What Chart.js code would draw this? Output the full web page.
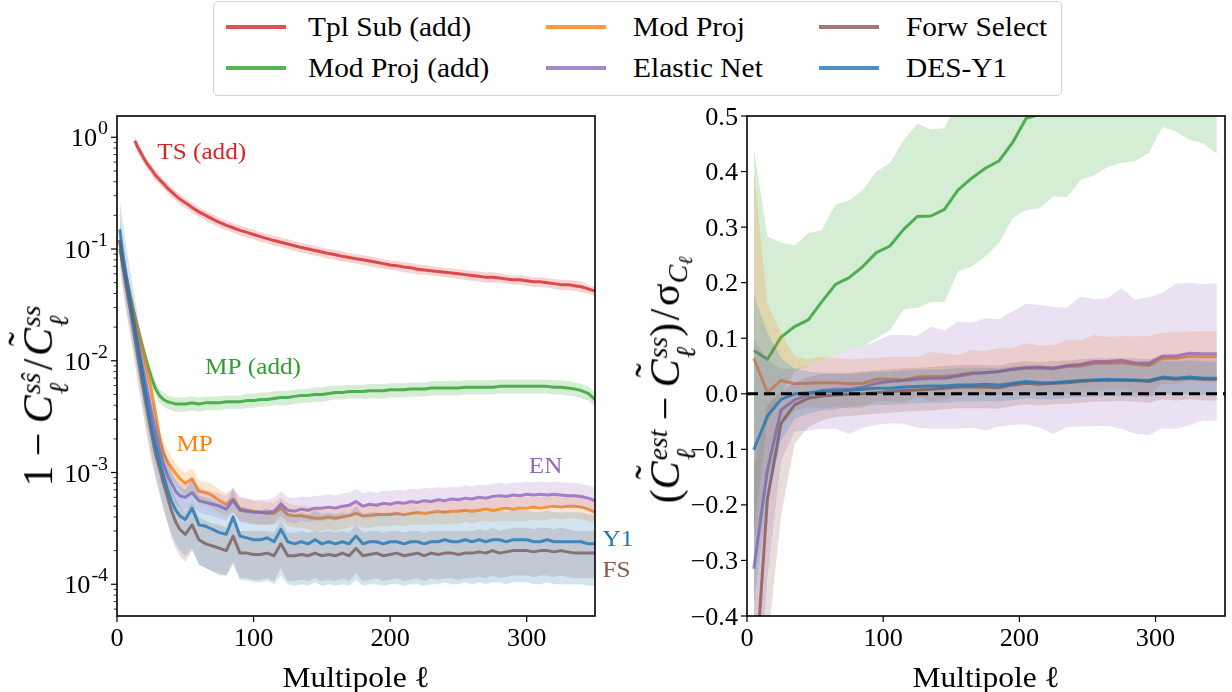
<!DOCTYPE html>
<html>
<head>
<meta charset="utf-8">
<script src="https://cdn.jsdelivr.net/npm/chart.js@4.4.1/dist/chart.umd.min.js"></script>
<style>
  body { margin: 0; background: #fff; }
  #wrap { position: relative; width: 1232px; height: 692px; overflow: hidden; font-family: 'Liberation Serif', 'DejaVu Serif', serif; }
  canvas { position: absolute; }
  #legend { position: absolute; left: 213px; top: 1px; width: 849px; height: 95px; border: 1px solid #d2d2d2; border-radius: 5px; box-sizing: border-box; background: #fff; z-index: 2; }
  .sw { position: absolute; width: 60px; height: 4px; }
  .lab { position: absolute; white-space: nowrap; font-size: 28px; line-height: 1; transform-origin: 0 50%; transform: translateY(-50%) scaleX(1.05); }
  .ytitle { position: absolute; width: 0; height: 0; z-index: 2; }
  .ytitle > span { position: absolute; white-space: nowrap; font-size: 42px; line-height: 1; transform: translate(-50%, -50%) rotate(-90deg); }
  .st { display: inline-flex; flex-direction: column; font-size: 0.66em; line-height: 1; vertical-align: 0.42em; margin-left: 1px; font-style: italic; }
  .tc { position: relative; font-style: italic; }
  .tc b { position: absolute; left: 0.24em; top: -0.3em; font-weight: normal; font-style: normal; }
  .op { margin: 0 0.22em; }
  .sl { margin: 0 0.06em; }
  .sub { font-size: 0.66em; vertical-align: -0.3em; font-style: italic; }
  .sub2 { font-size: 0.72em; vertical-align: -0.25em; }
</style>
</head>
<body>
<div id="wrap">
  <div id="legend"></div>
  <canvas id="left" width="650" height="592" style="left:0;top:100px"></canvas>
  <canvas id="right" width="582" height="592" style="left:650px;top:100px"></canvas>
  <div class="ytitle" style="left:45px;top:396px"><span>1<span class="op">−</span><i>C</i><span class="st"><span>sŝ</span><span>ℓ</span></span><span class="sl">/</span><span class="tc">C<b>˜</b></span><span class="st"><span>ss</span><span>ℓ</span></span></span></div>
  <div class="ytitle" style="left:672px;top:380px"><span>(<span class="tc">C<b>˜</b></span><span class="st"><span>est</span><span>ℓ</span></span><span class="op">−</span><span class="tc">C<b>˜</b></span><span class="st"><span>ss</span><span>ℓ</span></span>)<span class="sl">/</span>σ<span class="sub">C<span class="sub2">ℓ</span></span></span></div>
</div>
<script>
// colours (matplotlib tab palette)
const RED = '214,39,40', GREEN = '44,160,44', ORANGE = '255,127,14';
const PURPLE = '148,103,189', BROWN = '140,86,75', BLUE = '31,119,180';

// ---------- left panel: 1 - C^ss^/C~ss (log scale) ----------
const L_ELL = [
  2, 4, 6, 8, 10, 13, 16, 19, 22, 25,
  28, 31, 34, 37, 40, 43, 46, 50, 55, 60,
  65, 70, 75, 80, 85, 90, 95, 100, 105, 110,
  115, 120, 125, 130, 135, 140, 145, 150, 155, 160,
  165, 170, 175, 180, 185, 190, 195, 200, 205, 210,
  215, 220, 225, 230, 235, 240, 245, 250, 255, 260,
  265, 270, 275, 280, 285, 290, 295, 300, 305, 310,
  315, 320, 325, 330, 335, 340, 345, 350];

const TS_ADD = [
  null, null, null, null, null, 0.93, 0.78, 0.67, 0.58, 0.52,
  0.46, 0.42, 0.385, 0.35, 0.325, 0.30, 0.28, 0.26, 0.235, 0.215,
  0.20, 0.185, 0.173, 0.163, 0.155, 0.147, 0.141, 0.135, 0.129, 0.124,
  0.119, 0.115, 0.111, 0.107, 0.103, 0.100, 0.097, 0.094, 0.091, 0.089,
  0.086, 0.084, 0.082, 0.080, 0.078, 0.076, 0.074, 0.072, 0.071, 0.069,
  0.068, 0.066, 0.065, 0.064, 0.063, 0.062, 0.061, 0.060, 0.059, 0.058,
  0.057, 0.056, 0.056, 0.055, 0.054, 0.053, 0.053, 0.052, 0.051, 0.051,
  0.050, 0.049, 0.048, 0.048, 0.047, 0.046, 0.044, 0.042];
const TS_ADD_LO = [
  null, null, null, null, null, 0.84, 0.70, 0.60, 0.52, 0.47,
  0.41, 0.38, 0.35, 0.315, 0.29, 0.27, 0.25, 0.234, 0.21, 0.194,
  0.18, 0.167, 0.156, 0.147, 0.14, 0.132, 0.127, 0.122, 0.116, 0.112,
  0.107, 0.104, 0.100, 0.096, 0.093, 0.090, 0.087, 0.085, 0.082, 0.080,
  0.077, 0.076, 0.074, 0.072, 0.070, 0.068, 0.067, 0.065, 0.064, 0.062,
  0.061, 0.059, 0.059, 0.058, 0.057, 0.056, 0.055, 0.054, 0.053, 0.052,
  0.051, 0.050, 0.050, 0.050, 0.049, 0.048, 0.048, 0.047, 0.046, 0.046,
  0.045, 0.044, 0.043, 0.043, 0.042, 0.041, 0.040, 0.038];
const TS_ADD_HI = [
  null, null, null, null, null, 1.02, 0.86, 0.74, 0.64, 0.57,
  0.51, 0.46, 0.42, 0.385, 0.36, 0.33, 0.31, 0.286, 0.26, 0.237,
  0.22, 0.204, 0.19, 0.179, 0.17, 0.162, 0.155, 0.149, 0.142, 0.136,
  0.131, 0.127, 0.122, 0.118, 0.113, 0.110, 0.107, 0.103, 0.100, 0.098,
  0.095, 0.092, 0.090, 0.088, 0.086, 0.084, 0.081, 0.079, 0.078, 0.076,
  0.075, 0.073, 0.072, 0.070, 0.069, 0.068, 0.067, 0.066, 0.065, 0.064,
  0.063, 0.062, 0.062, 0.061, 0.059, 0.058, 0.058, 0.057, 0.056, 0.056,
  0.055, 0.054, 0.053, 0.053, 0.052, 0.051, 0.048, 0.046];

const MP_ADD = [
  0.10, 0.075, 0.058, 0.045, 0.036, 0.025, 0.018, 0.013, 0.0095, 0.0072,
  0.0057, 0.0049, 0.0045, 0.0043, 0.0042, 0.0041, 0.0041, 0.0041, 0.0042, 0.0041,
  0.0042, 0.0042, 0.0042, 0.0043, 0.0043, 0.0043, 0.0044, 0.0044, 0.0045, 0.0045,
  0.0046, 0.0047, 0.0047, 0.0048, 0.0049, 0.0049, 0.0050, 0.0050, 0.0051, 0.0052,
  0.0052, 0.0053, 0.0053, 0.0053, 0.0054, 0.0054, 0.0054, 0.0055, 0.0055, 0.0055,
  0.0056, 0.0056, 0.0056, 0.0057, 0.0057, 0.0057, 0.0057, 0.0057, 0.0058, 0.0058,
  0.0058, 0.0058, 0.0058, 0.0059, 0.0059, 0.0059, 0.0059, 0.0059, 0.0059, 0.0059,
  0.0059, 0.0058, 0.0058, 0.0057, 0.0056, 0.0054, 0.0051, 0.0045];
const MP_ADD_LO = [
  0.086, 0.064, 0.050, 0.039, 0.031, 0.0215, 0.0155, 0.0112, 0.0082, 0.0062,
  0.0049, 0.0042, 0.0039, 0.0037, 0.0036, 0.0035, 0.0035, 0.0035, 0.0036, 0.0035,
  0.0036, 0.0036, 0.0036, 0.0037, 0.0037, 0.0037, 0.0038, 0.0038, 0.0039, 0.0039,
  0.0040, 0.0040, 0.0040, 0.0041, 0.0042, 0.0042, 0.0043, 0.0043, 0.0044, 0.0045,
  0.0045, 0.0046, 0.0046, 0.0046, 0.0046, 0.0046, 0.0046, 0.0047, 0.0047, 0.0047,
  0.0048, 0.0048, 0.0048, 0.0049, 0.0049, 0.0049, 0.0049, 0.0049, 0.0050, 0.0050,
  0.0050, 0.0050, 0.0050, 0.0051, 0.0051, 0.0051, 0.0051, 0.0051, 0.0051, 0.0051,
  0.0051, 0.0050, 0.0050, 0.0049, 0.0048, 0.0046, 0.0044, 0.0039];
const MP_ADD_HI = [
  0.115, 0.086, 0.067, 0.052, 0.041, 0.029, 0.021, 0.015, 0.011, 0.0083,
  0.0066, 0.0056, 0.0052, 0.0049, 0.0048, 0.0047, 0.0047, 0.0047, 0.0048, 0.0047,
  0.0048, 0.0048, 0.0048, 0.0049, 0.0049, 0.0049, 0.0051, 0.0051, 0.0052, 0.0052,
  0.0053, 0.0054, 0.0054, 0.0055, 0.0056, 0.0056, 0.0058, 0.0058, 0.0059, 0.0060,
  0.0060, 0.0061, 0.0061, 0.0061, 0.0062, 0.0062, 0.0062, 0.0063, 0.0063, 0.0063,
  0.0064, 0.0064, 0.0064, 0.0066, 0.0066, 0.0066, 0.0066, 0.0066, 0.0067, 0.0067,
  0.0067, 0.0067, 0.0067, 0.0068, 0.0068, 0.0068, 0.0068, 0.0068, 0.0068, 0.0068,
  0.0068, 0.0067, 0.0067, 0.0066, 0.0064, 0.0062, 0.0059, 0.0052];

const MP = [
  0.12, 0.085, 0.063, 0.048, 0.037, 0.025, 0.017, 0.012, 0.0082, 0.0056,
  0.0035, 0.0021, 0.0015, 0.00125, 0.0011, 0.00098, 0.00088, 0.0008, 0.00088, 0.00068,
  0.00066, 0.00062, 0.00056, 0.00052, 0.00058, 0.00047, 0.00046, 0.00045, 0.00044, 0.00043,
  0.00043, 0.00048, 0.00042, 0.00041, 0.00041, 0.00040, 0.00039, 0.00039, 0.00040, 0.00039,
  0.00040, 0.00041, 0.00043, 0.00041, 0.00041, 0.00042, 0.00042, 0.00042, 0.00043, 0.00042,
  0.00043, 0.00044, 0.00043, 0.00044, 0.00045, 0.00044, 0.00045, 0.00045, 0.00046, 0.00045,
  0.00046, 0.00047, 0.00046, 0.00047, 0.00048, 0.00047, 0.00048, 0.00048, 0.00049, 0.00048,
  0.00049, 0.00050, 0.00049, 0.00050, 0.00050, 0.00049, 0.00047, 0.00044];
const MP_LO = [
  0.10, 0.072, 0.053, 0.040, 0.031, 0.021, 0.014, 0.0099, 0.0067, 0.0045,
  0.0028, 0.0017, 0.0012, 0.001, 0.00088, 0.00078, 0.0007, 0.00063, 0.00068, 0.00053,
  0.00051, 0.00048, 0.00044, 0.00041, 0.00045, 0.00037, 0.00036, 0.00035, 0.00034, 0.00034,
  0.00034, 0.00037, 0.00033, 0.00032, 0.00032, 0.00031, 0.0003, 0.0003, 0.00031, 0.0003,
  0.00031, 0.00032, 0.00034, 0.00032, 0.00032, 0.00033, 0.00033, 0.00033, 0.00034, 0.00033,
  0.00034, 0.00034, 0.00034, 0.00034, 0.00035, 0.00034, 0.00035, 0.00035, 0.00036, 0.00035,
  0.00036, 0.00037, 0.00036, 0.00037, 0.00037, 0.00037, 0.00037, 0.00037, 0.00038, 0.00037,
  0.00038, 0.00039, 0.00038, 0.00039, 0.00039, 0.00038, 0.00037, 0.00034];
const MP_HI = [
  0.14, 0.10, 0.075, 0.057, 0.044, 0.030, 0.020, 0.014, 0.0099, 0.0068,
  0.0043, 0.0026, 0.0019, 0.0016, 0.0014, 0.0012, 0.0011, 0.001, 0.0011, 0.00085,
  0.00083, 0.00078, 0.0007, 0.00065, 0.00073, 0.00059, 0.00058, 0.00056, 0.00055, 0.00054,
  0.00054, 0.0006, 0.00053, 0.00051, 0.00051, 0.0005, 0.00049, 0.00049, 0.0005, 0.00049,
  0.0005, 0.00051, 0.00054, 0.00051, 0.00051, 0.00053, 0.00053, 0.00053, 0.00054, 0.00053,
  0.00054, 0.00055, 0.00054, 0.00055, 0.00056, 0.00055, 0.00056, 0.00056, 0.00058, 0.00056,
  0.00058, 0.00059, 0.00058, 0.00059, 0.0006, 0.00059, 0.0006, 0.0006, 0.00061, 0.0006,
  0.00061, 0.00063, 0.00061, 0.00063, 0.00063, 0.00061, 0.00059, 0.00055];

const EN = [
  0.12, 0.08, 0.058, 0.042, 0.031, 0.020, 0.013, 0.0085, 0.0055, 0.0036,
  0.0024, 0.0016, 0.0012, 0.00095, 0.0008, 0.00068, 0.00062, 0.0006, 0.00066, 0.00056,
  0.00054, 0.00052, 0.00050, 0.00047, 0.00056, 0.00046, 0.00045, 0.00044, 0.00044, 0.00044,
  0.00045, 0.00052, 0.00046, 0.00045, 0.00047, 0.00046, 0.00048, 0.00048, 0.00049, 0.00048,
  0.00050, 0.00051, 0.00055, 0.00050, 0.00052, 0.00051, 0.00053, 0.00052, 0.00054, 0.00053,
  0.00055, 0.00054, 0.00056, 0.00055, 0.00057, 0.00056, 0.00058, 0.00057, 0.00059, 0.00058,
  0.00060, 0.00059, 0.00061, 0.00062, 0.00061, 0.00063, 0.00062, 0.00064, 0.00063, 0.00064,
  0.00063, 0.00064, 0.00063, 0.00062, 0.00062, 0.00061, 0.00059, 0.00056];
const EN_LO = [
  0.10, 0.066, 0.048, 0.034, 0.025, 0.016, 0.0102, 0.0066, 0.0043, 0.0028,
  0.0019, 0.00125, 0.00094, 0.00074, 0.00062, 0.00053, 0.00048, 0.00047, 0.00051, 0.00044,
  0.00042, 0.00041, 0.00039, 0.00037, 0.00044, 0.00036, 0.00035, 0.00034, 0.00034, 0.00034,
  0.00035, 0.00041, 0.00036, 0.00035, 0.00037, 0.00036, 0.00037, 0.00037, 0.00038, 0.00037,
  0.00039, 0.0004, 0.00043, 0.00039, 0.00041, 0.0004, 0.00041, 0.00041, 0.00042, 0.00041,
  0.00043, 0.00042, 0.00044, 0.00043, 0.00044, 0.00044, 0.00045, 0.00044, 0.00046, 0.00045,
  0.00047, 0.00046, 0.00048, 0.00048, 0.00048, 0.00049, 0.00048, 0.0005, 0.00049, 0.0005,
  0.00049, 0.0005, 0.00049, 0.00048, 0.00048, 0.00048, 0.00046, 0.00044];
const EN_HI = [
  0.15, 0.10, 0.075, 0.055, 0.040, 0.026, 0.017, 0.011, 0.0072, 0.0047,
  0.0031, 0.0021, 0.0016, 0.00124, 0.00104, 0.00088, 0.00081, 0.00078, 0.00086, 0.00073,
  0.0007, 0.00068, 0.00065, 0.00061, 0.00073, 0.0006, 0.00059, 0.00057, 0.00057, 0.00057,
  0.00059, 0.00068, 0.0006, 0.00059, 0.00061, 0.0006, 0.00062, 0.00062, 0.00064, 0.00062,
  0.00065, 0.00066, 0.00072, 0.00065, 0.00068, 0.00066, 0.00069, 0.00068, 0.0007, 0.00069,
  0.00072, 0.0007, 0.00073, 0.00072, 0.00074, 0.00073, 0.00075, 0.00074, 0.00077, 0.00075,
  0.00078, 0.00077, 0.00079, 0.00081, 0.00079, 0.00082, 0.00081, 0.00083, 0.00082, 0.00083,
  0.00082, 0.00083, 0.00082, 0.00081, 0.00081, 0.00079, 0.00077, 0.00073];

const FS = [
  0.12, 0.075, 0.052, 0.037, 0.027, 0.016, 0.0095, 0.0058, 0.0036, 0.0023,
  0.0015, 0.0011, 0.0008, 0.0006, 0.00045, 0.00036, 0.00031, 0.00028, 0.00034, 0.00025,
  0.00023, 0.00022, 0.00021, 0.0002, 0.00027, 0.00019, 0.00019, 0.000185, 0.000185, 0.00019,
  0.00018, 0.00023, 0.00018, 0.00018, 0.000185, 0.00018, 0.00019, 0.00018, 0.000185, 0.00018,
  0.00019, 0.00018, 0.00021, 0.00018, 0.000185, 0.00019, 0.00018, 0.000185, 0.00019, 0.00018,
  0.000185, 0.00019, 0.00018, 0.00019, 0.000185, 0.00019, 0.00019, 0.000185, 0.00019, 0.00019,
  0.000195, 0.00019, 0.0002, 0.00019, 0.000195, 0.0002, 0.0002, 0.0002, 0.000195, 0.0002,
  0.0002, 0.000195, 0.0002, 0.000195, 0.00019, 0.00019, 0.00019, 0.00019];
const FS_LO = [
  0.07, 0.045, 0.031, 0.022, 0.016, 0.0095, 0.0056, 0.0034, 0.0021, 0.0013,
  0.00088, 0.00064, 0.00046, 0.00035, 0.00026, 0.00021, 0.00018, 0.00016, 0.0002, 0.00015,
  0.00014, 0.00013, 0.000125, 0.00012, 0.00016, 0.000113, 0.000113, 0.00011, 0.00011, 0.000113,
  0.000107, 0.00014, 0.000107, 0.000107, 0.00011, 0.000107, 0.000113, 0.000107, 0.00011, 0.000107,
  0.000113, 0.000107, 0.000125, 0.000107, 0.00011, 0.000113, 0.000107, 0.00011, 0.000113, 0.000107,
  0.00011, 0.000113, 0.000107, 0.000113, 0.00011, 0.000113, 0.000113, 0.00011, 0.000113, 0.000113,
  0.000116, 0.000113, 0.00012, 0.000113, 0.000116, 0.00012, 0.00012, 0.00012, 0.000116, 0.00012,
  0.00012, 0.000116, 0.00012, 0.000116, 0.000113, 0.000113, 0.000113, 0.000113];
const FS_HI = [
  0.19, 0.12, 0.083, 0.059, 0.043, 0.026, 0.015, 0.0093, 0.0058, 0.0037,
  0.0024, 0.0018, 0.0013, 0.00096, 0.00072, 0.00058, 0.0005, 0.00045, 0.00054, 0.0004,
  0.00037, 0.00035, 0.00034, 0.00032, 0.00043, 0.0003, 0.0003, 0.0003, 0.0003, 0.0003,
  0.00029, 0.00037, 0.00029, 0.00029, 0.0003, 0.00029, 0.0003, 0.00029, 0.0003, 0.00029,
  0.0003, 0.00029, 0.00034, 0.00029, 0.0003, 0.0003, 0.00029, 0.0003, 0.0003, 0.00029,
  0.0003, 0.0003, 0.00029, 0.0003, 0.0003, 0.0003, 0.0003, 0.0003, 0.0003, 0.0003,
  0.00031, 0.0003, 0.00032, 0.0003, 0.00031, 0.00032, 0.00032, 0.00032, 0.00031, 0.00032,
  0.00032, 0.00031, 0.00032, 0.00031, 0.0003, 0.0003, 0.0003, 0.0003];

const Y1 = [
  0.15, 0.095, 0.065, 0.046, 0.033, 0.020, 0.012, 0.0072, 0.0043, 0.0027,
  0.0018, 0.0013, 0.00095, 0.0007, 0.00055, 0.00046, 0.00041, 0.00038, 0.00048, 0.00034,
  0.00033, 0.00031, 0.00029, 0.00028, 0.00040, 0.00027, 0.00026, 0.00025, 0.00025, 0.00026,
  0.00024, 0.00031, 0.00024, 0.00023, 0.00024, 0.00023, 0.00025, 0.00023, 0.00024, 0.00023,
  0.00024, 0.00023, 0.00027, 0.00023, 0.00024, 0.00024, 0.00023, 0.00024, 0.00024, 0.00023,
  0.00024, 0.00024, 0.00023, 0.00024, 0.00024, 0.00025, 0.00024, 0.00024, 0.00025, 0.00024,
  0.00025, 0.00024, 0.00025, 0.00025, 0.00024, 0.00025, 0.00025, 0.00025, 0.00024, 0.00024,
  0.00025, 0.00024, 0.00024, 0.00024, 0.00024, 0.00024, 0.00023, 0.00023];
const Y1_LO = [
  0.08, 0.05, 0.035, 0.025, 0.018, 0.011, 0.0066, 0.004, 0.0024, 0.0015,
  0.001, 0.0007, 0.0005, 0.00036, 0.00028, 0.00023, 0.0002, 0.00018, 0.00021, 0.00015,
  0.00014, 0.00013, 0.00012, 0.00012, 0.00015, 0.00011, 0.000108, 0.000105, 0.000104, 0.000108,
  0.0001, 0.00012, 0.0001, 0.000097, 0.0001, 0.000097, 0.000104, 0.000097, 0.0001, 0.000097,
  0.0001, 0.000097, 0.00011, 0.000097, 0.0001, 0.0001, 0.000097, 0.0001, 0.0001, 0.000097,
  0.0001, 0.0001, 0.000097, 0.0001, 0.0001, 0.000104, 0.0001, 0.0001, 0.000104, 0.0001,
  0.000104, 0.0001, 0.000104, 0.000104, 0.0001, 0.000104, 0.000104, 0.000104, 0.0001, 0.0001,
  0.000104, 0.0001, 0.0001, 0.0001, 0.0001, 0.0001, 0.000097, 0.000097];
const Y1_HI = [
  0.28, 0.18, 0.12, 0.085, 0.06, 0.037, 0.022, 0.013, 0.008, 0.005,
  0.0033, 0.0024, 0.0017, 0.0013, 0.001, 0.00085, 0.00075, 0.0007, 0.00088, 0.00062,
  0.0006, 0.00057, 0.00053, 0.00051, 0.00072, 0.0005, 0.00048, 0.00046, 0.00046, 0.00048,
  0.00044, 0.00057, 0.00044, 0.00042, 0.00044, 0.00042, 0.00046, 0.00042, 0.00044, 0.00042,
  0.00044, 0.00042, 0.0005, 0.00042, 0.00044, 0.00044, 0.00042, 0.00044, 0.00044, 0.00042,
  0.00044, 0.00044, 0.00042, 0.00044, 0.00044, 0.00046, 0.00044, 0.00044, 0.00046, 0.00044,
  0.00046, 0.00044, 0.00046, 0.00046, 0.00044, 0.00046, 0.00046, 0.00046, 0.00044, 0.00044,
  0.00046, 0.00044, 0.00044, 0.00044, 0.00044, 0.00044, 0.00042, 0.00042];

// ---------- right panel: (C~est - C~ss)/sigma, binned ----------
const R_ELL = [
  5, 15, 25, 35, 45, 55, 65, 75, 85, 95,
  105, 115, 125, 135, 145, 155, 165, 175, 185, 195,
  205, 215, 225, 235, 245, 255, 265, 275, 285, 295,
  305, 315, 325, 335, 345];

const R_MP_ADD = [
  0.078, 0.062, 0.102, 0.121, 0.133, 0.166, 0.197, 0.209, 0.229, 0.254,
  0.266, 0.296, 0.319, 0.320, 0.332, 0.367, 0.388, 0.406, 0.419, 0.452,
  0.496, 0.503, 0.515, 0.53, 0.55, 0.56, 0.575, 0.59, 0.6, 0.61,
  0.625, 0.64, 0.65, 0.66, 0.67];
const R_MP_ADD_LO = [
  -0.25, -0.05, 0.0, 0.04, 0.05, 0.06, 0.07, 0.08, 0.085, 0.10,
  0.115, 0.152, 0.155, 0.165, 0.165, 0.22, 0.229, 0.247, 0.271, 0.316,
  0.331, 0.334, 0.355, 0.354, 0.385, 0.394, 0.408, 0.416, 0.419, 0.433,
  0.48, 0.472, 0.457, 0.451, 0.432];
const R_MP_ADD_HI = [
  0.442, 0.283, 0.272, 0.267, 0.289, 0.295, 0.341, 0.348, 0.367, 0.400,
  0.415, 0.457, 0.486, 0.476, 0.478, 0.53, 0.56, 0.58, 0.6, 0.62,
  0.66, 0.68, 0.7, 0.72, 0.74, 0.75, 0.77, 0.78, 0.8, 0.81,
  0.83, 0.84, 0.86, 0.87, 0.88];

const R_MP = [
  0.064, 0.002, 0.024, 0.018, 0.019, 0.020, 0.020, 0.018, 0.019, 0.026,
  0.026, 0.025, 0.030, 0.031, 0.031, 0.034, 0.038, 0.038, 0.040, 0.044,
  0.046, 0.046, 0.045, 0.049, 0.050, 0.055, 0.055, 0.056, 0.053, 0.051,
  0.064, 0.064, 0.068, 0.067, 0.067];
const R_MP_LO = [
  -0.27, -0.16, -0.06, -0.031, -0.024, -0.026, -0.024, -0.026, -0.025, -0.013,
  -0.014, -0.016, -0.006, -0.013, -0.010, -0.002, -0.003, -0.001, -0.002, 0.006,
  0.001, 0.005, 0.002, 0.001, 0.004, 0.004, 0.008, 0.008, 0.003, -0.002,
  0.018, 0.017, 0.024, 0.021, 0.021];
const R_MP_HI = [
  0.40, 0.163, 0.11, 0.067, 0.062, 0.066, 0.064, 0.062, 0.063, 0.065,
  0.066, 0.066, 0.066, 0.075, 0.072, 0.070, 0.079, 0.077, 0.082, 0.082,
  0.091, 0.087, 0.088, 0.097, 0.096, 0.106, 0.102, 0.104, 0.103, 0.104,
  0.110, 0.111, 0.112, 0.113, 0.113];

const R_EN = [
  -0.315, -0.137, -0.029, -0.011, -0.002, 0.006, 0.008, 0.008, 0.012, 0.019,
  0.022, 0.024, 0.026, 0.028, 0.028, 0.032, 0.036, 0.038, 0.040, 0.044,
  0.047, 0.048, 0.046, 0.051, 0.053, 0.058, 0.058, 0.060, 0.056, 0.055,
  0.068, 0.068, 0.073, 0.072, 0.072];
const R_EN_LO = [
  -0.70, -0.33, -0.12, -0.068, -0.066, -0.063, -0.063, -0.072, -0.061, -0.056,
  -0.053, -0.054, -0.061, -0.063, -0.063, -0.063, -0.061, -0.066, -0.059, -0.056,
  -0.055, -0.061, -0.072, -0.06, -0.059, -0.058, -0.058, -0.063, -0.072, -0.074,
  -0.062, -0.063, -0.056, -0.048, -0.049];
const R_EN_HI = [
  0.10, 0.06, 0.045, 0.045, 0.05, 0.06, 0.07, 0.08, 0.085, 0.095,
  0.106, 0.106, 0.104, 0.121, 0.114, 0.130, 0.128, 0.136, 0.134, 0.148,
  0.162, 0.160, 0.156, 0.155, 0.175, 0.170, 0.172, 0.190, 0.169, 0.174,
  0.182, 0.198, 0.200, 0.197, 0.199];

const R_FS = [
  -0.55, -0.19, -0.053, -0.020, -0.008, -0.004, -0.002, -0.001, 0.000, 0.002,
  0.004, 0.006, 0.007, 0.008, 0.010, 0.012, 0.012, 0.012, 0.011, 0.016,
  0.019, 0.017, 0.019, 0.020, 0.022, 0.024, 0.024, 0.025, 0.024, 0.022,
  0.028, 0.026, 0.028, 0.026, 0.026];
const R_FS_LO = [
  -1.0, -0.45, -0.22, -0.09, -0.06, -0.048, -0.042, -0.040, -0.038, -0.036,
  -0.034, -0.032, -0.031, -0.030, -0.028, -0.026, -0.026, -0.026, -0.027, -0.022,
  -0.019, -0.021, -0.019, -0.018, -0.016, -0.014, -0.014, -0.013, -0.014, -0.016,
  -0.010, -0.012, -0.010, -0.012, -0.012];
const R_FS_HI = [
  -0.13, -0.02, 0.005, 0.02, 0.03, 0.035, 0.037, 0.038, 0.040, 0.042,
  0.044, 0.046, 0.047, 0.048, 0.050, 0.052, 0.052, 0.052, 0.051, 0.056,
  0.059, 0.057, 0.059, 0.060, 0.062, 0.064, 0.064, 0.065, 0.064, 0.062,
  0.068, 0.066, 0.068, 0.066, 0.066];

const R_Y1 = [
  -0.101, -0.040, -0.010, 0.000, 0.002, 0.004, 0.004, 0.006, 0.008, 0.010,
  0.010, 0.012, 0.013, 0.014, 0.014, 0.016, 0.016, 0.017, 0.016, 0.019,
  0.022, 0.020, 0.020, 0.022, 0.024, 0.025, 0.026, 0.025, 0.025, 0.024,
  0.030, 0.028, 0.030, 0.028, 0.028];
const R_Y1_LO = [
  -0.38, -0.19, -0.085, -0.045, -0.036, -0.030, -0.028, -0.024, -0.022, -0.020,
  -0.020, -0.018, -0.017, -0.016, -0.016, -0.014, -0.014, -0.013, -0.014, -0.011,
  -0.008, -0.010, -0.010, -0.008, -0.006, -0.005, -0.004, -0.005, -0.005, -0.006,
  0.000, -0.002, 0.000, -0.002, -0.002];
const R_Y1_HI = [
  0.178, 0.11, 0.065, 0.045, 0.040, 0.038, 0.036, 0.036, 0.038, 0.040,
  0.040, 0.042, 0.043, 0.044, 0.044, 0.046, 0.046, 0.047, 0.046, 0.049,
  0.052, 0.050, 0.050, 0.052, 0.054, 0.055, 0.056, 0.055, 0.055, 0.054,
  0.060, 0.058, 0.060, 0.058, 0.058];

// tick labels
const X_TICKS = [0, 100, 200, 300];
const LOG_TICKS = [1e-4, 1e-3, 1e-2, 1e-1, 1];
const R_Y_TICKS = [-0.4, -0.3, -0.2, -0.1, 0.0, 0.1, 0.2, 0.3, 0.4, 0.5];
const ZERO_LEVEL = 0;

// legend order (matplotlib ncol=3 fills columns first)
const LEGEND = [
  ['Tpl Sub (add)', RED], ['Mod Proj (add)', GREEN], ['Mod Proj', ORANGE],
  ['Elastic Net', PURPLE], ['Forw Select', BROWN], ['DES-Y1', BLUE]];

// inline curve names on the left panel (ell, value)
const LEFT_NOTES = [
  ['TS (add)', 29.5, 0.75, RED], ['MP (add)', 64.5, 0.0089, GREEN],
  ['MP', 43.5, 0.00184, ORANGE], ['EN', 301.5, 0.00116, PURPLE],
  ['Y1', 355.5, 0.000262, BLUE], ['FS', 355.5, 0.000136, BROWN]];

const SERIF = '"Liberation Serif", "DejaVu Serif", serif';
const SX = 1.05; // reference text is drawn a little wider than tall

// legend
const lg = document.getElementById('legend');
const COLS = [12, 332, 605], TXT = [94, 419, 692], ROWS = [25, 66];
LEGEND.forEach(([name, rgb], i) => {
  const c = Math.floor(i / 2), r = i % 2;
  const sw = document.createElement('div');
  sw.className = 'sw';
  sw.style.cssText = `left:${COLS[c]}px;top:${ROWS[r] - 2}px;background:rgba(${rgb},0.8)`;
  const t = document.createElement('div');
  t.className = 'lab';
  t.style.cssText = `left:${TXT[c]}px;top:${ROWS[r]}px`;
  t.textContent = name;
  lg.appendChild(sw); lg.appendChild(t);
});

function text(ctx, s, x, y, align, font, color) {
  ctx.save();
  ctx.font = font;
  ctx.fillStyle = color || '#000';
  ctx.textAlign = 'left';
  ctx.textBaseline = 'alphabetic';
  const w = ctx.measureText(s).width * SX;
  const x0 = align === 'right' ? x - w : align === 'center' ? x - w / 2 : x;
  ctx.translate(x0, y);
  ctx.scale(SX, 1);
  ctx.fillText(s, 0, 0);
  ctx.restore();
  return w;
}

function seg(ctx, x1, y1, x2, y2, w) {
  ctx.lineWidth = w;
  ctx.beginPath(); ctx.moveTo(x1, y1); ctx.lineTo(x2, y2); ctx.stroke();
}

function frameAndX(chart) {
  const { ctx, chartArea: a, scales: { x } } = chart;
  ctx.save();
  ctx.strokeStyle = '#000';
  X_TICKS.forEach(v => {
    const px = x.getPixelForValue(v);
    seg(ctx, px, a.bottom, px, a.bottom + 6, 1.2);
    text(ctx, String(v), px, a.bottom + 30, 'center', '25px ' + SERIF);
  });
  text(ctx, 'Multipole ℓ', (a.left + a.right) / 2, a.bottom + 71, 'center', '30px ' + SERIF);
  ctx.lineWidth = 1.6;
  ctx.strokeRect(a.left, a.top, a.right - a.left, a.bottom - a.top);
  ctx.restore();
}

function bandSets(xs, lo, hi, line, rgb, width) {
  const pts = arr => xs.map((x, i) => ({ x, y: arr[i] }));
  const base = { pointRadius: 0, tension: 0, clip: 0 };
  return [
    { ...base, data: pts(lo), borderWidth: 0, fill: false },
    { ...base, data: pts(hi), borderWidth: 0, fill: '-1', backgroundColor: `rgba(${rgb},0.2)` },
    { ...base, data: pts(line), borderColor: `rgba(${rgb},0.8)`, borderWidth: width, fill: false, borderJoinStyle: 'round' }
  ];
}

function ordered(sets) {
  // later series on top, as in the plotting order
  sets.forEach((d, i) => { d.order = 1000 - i; });
  return sets;
}

const leftSets = ordered([
  ...bandSets(L_ELL, TS_ADD_LO, TS_ADD_HI, TS_ADD, RED, 3),
  ...bandSets(L_ELL, MP_ADD_LO, MP_ADD_HI, MP_ADD, GREEN, 3),
  ...bandSets(L_ELL, MP_LO, MP_HI, MP, ORANGE, 3),
  ...bandSets(L_ELL, EN_LO, EN_HI, EN, PURPLE, 3),
  ...bandSets(L_ELL, FS_LO, FS_HI, FS, BROWN, 3),
  ...bandSets(L_ELL, Y1_LO, Y1_HI, Y1, BLUE, 3)
]);

const rightSets = ordered([
  ...bandSets(R_ELL, R_MP_ADD_LO, R_MP_ADD_HI, R_MP_ADD, GREEN, 3),
  ...bandSets(R_ELL, R_MP_LO, R_MP_HI, R_MP, ORANGE, 3),
  ...bandSets(R_ELL, R_EN_LO, R_EN_HI, R_EN, PURPLE, 3),
  ...bandSets(R_ELL, R_FS_LO, R_FS_HI, R_FS, BROWN, 3),
  ...bandSets(R_ELL, R_Y1_LO, R_Y1_HI, R_Y1, BLUE, 3)
]);

const leftDecor = {
  id: 'leftDecor',
  afterDatasetsDraw(chart) {
    const { ctx, scales: { x, y } } = chart;
    LEFT_NOTES.forEach(([s, lx, ly, rgb]) => {
      text(ctx, s, x.getPixelForValue(lx), y.getPixelForValue(ly) + 8, 'left', '24px ' + SERIF, `rgb(${rgb})`);
    });
  },
  afterDraw(chart) {
    const { ctx, chartArea: a, scales: { y } } = chart;
    frameAndX(chart);
    ctx.save();
    ctx.strokeStyle = '#000';
    for (let d = -5; d <= 0; d++) {
      for (let m = 1; m <= 9; m++) {
        const v = m * Math.pow(10, d);
        if (v < y.min || v > y.max) continue;
        const py = y.getPixelForValue(v);
        seg(ctx, a.left - (m === 1 ? 6 : 3.5), py, a.left, py, m === 1 ? 1.2 : 0.8);
      }
    }
    LOG_TICKS.forEach(v => {
      const py = y.getPixelForValue(v);
      const e = String(Math.round(Math.log10(v)));
      const ew = text(ctx, e, a.left - 9, py - 3, 'right', '19px ' + SERIF);
      text(ctx, '10', a.left - 9 - ew - 1, py + 9, 'right', '25px ' + SERIF);
    });
    ctx.restore();
  }
};

const rightDecor = {
  id: 'rightDecor',
  afterDatasetsDraw(chart) {
    const { ctx, chartArea: a, scales: { y } } = chart;
    const py = y.getPixelForValue(ZERO_LEVEL);
    ctx.save();
    ctx.strokeStyle = '#000';
    ctx.setLineDash([11, 6]);
    seg(ctx, a.left, py, a.right, py, 3);
    ctx.restore();
  },
  afterDraw(chart) {
    const { ctx, chartArea: a, scales: { y } } = chart;
    frameAndX(chart);
    ctx.save();
    ctx.strokeStyle = '#000';
    R_Y_TICKS.forEach(v => {
      const py = y.getPixelForValue(v);
      seg(ctx, a.left - 6, py, a.left, py, 1.2);
      text(ctx, v.toFixed(1).replace('-', '−'), a.left - 9, py + 8.5, 'right', '25px ' + SERIF);
    });
    ctx.restore();
  }
};

function hiddenAxis(extra) {
  return Object.assign({
    ticks: { display: false },
    grid: { display: false },
    border: { display: false }
  }, extra);
}

Chart.defaults.font.family = SERIF;

new Chart(document.getElementById('left'), {
  type: 'line',
  data: { datasets: leftSets },
  options: {
    responsive: false,
    animation: false,
    events: [],
    layout: { padding: { top: 16, right: 55, left: 0, bottom: 0 } },
    plugins: { legend: { display: false }, tooltip: { enabled: false } },
    scales: {
      x: hiddenAxis({ type: 'linear', min: 0, max: 350, afterFit: s => { s.height = 76; } }),
      y: hiddenAxis({ type: 'logarithmic', min: 5.2e-5, max: 1.55, afterFit: s => { s.width = 117; } })
    }
  },
  plugins: [leftDecor]
});

new Chart(document.getElementById('right'), {
  type: 'line',
  data: { datasets: rightSets },
  options: {
    responsive: false,
    animation: false,
    events: [],
    layout: { padding: { top: 16, right: 7, left: 0, bottom: 0 } },
    plugins: { legend: { display: false }, tooltip: { enabled: false } },
    scales: {
      x: hiddenAxis({ type: 'linear', min: 0, max: 351, afterFit: s => { s.height = 76; } }),
      y: hiddenAxis({ type: 'linear', min: -0.4, max: 0.5, afterFit: s => { s.width = 97; } })
    }
  },
  plugins: [rightDecor]
});
</script>
</body>
</html>
